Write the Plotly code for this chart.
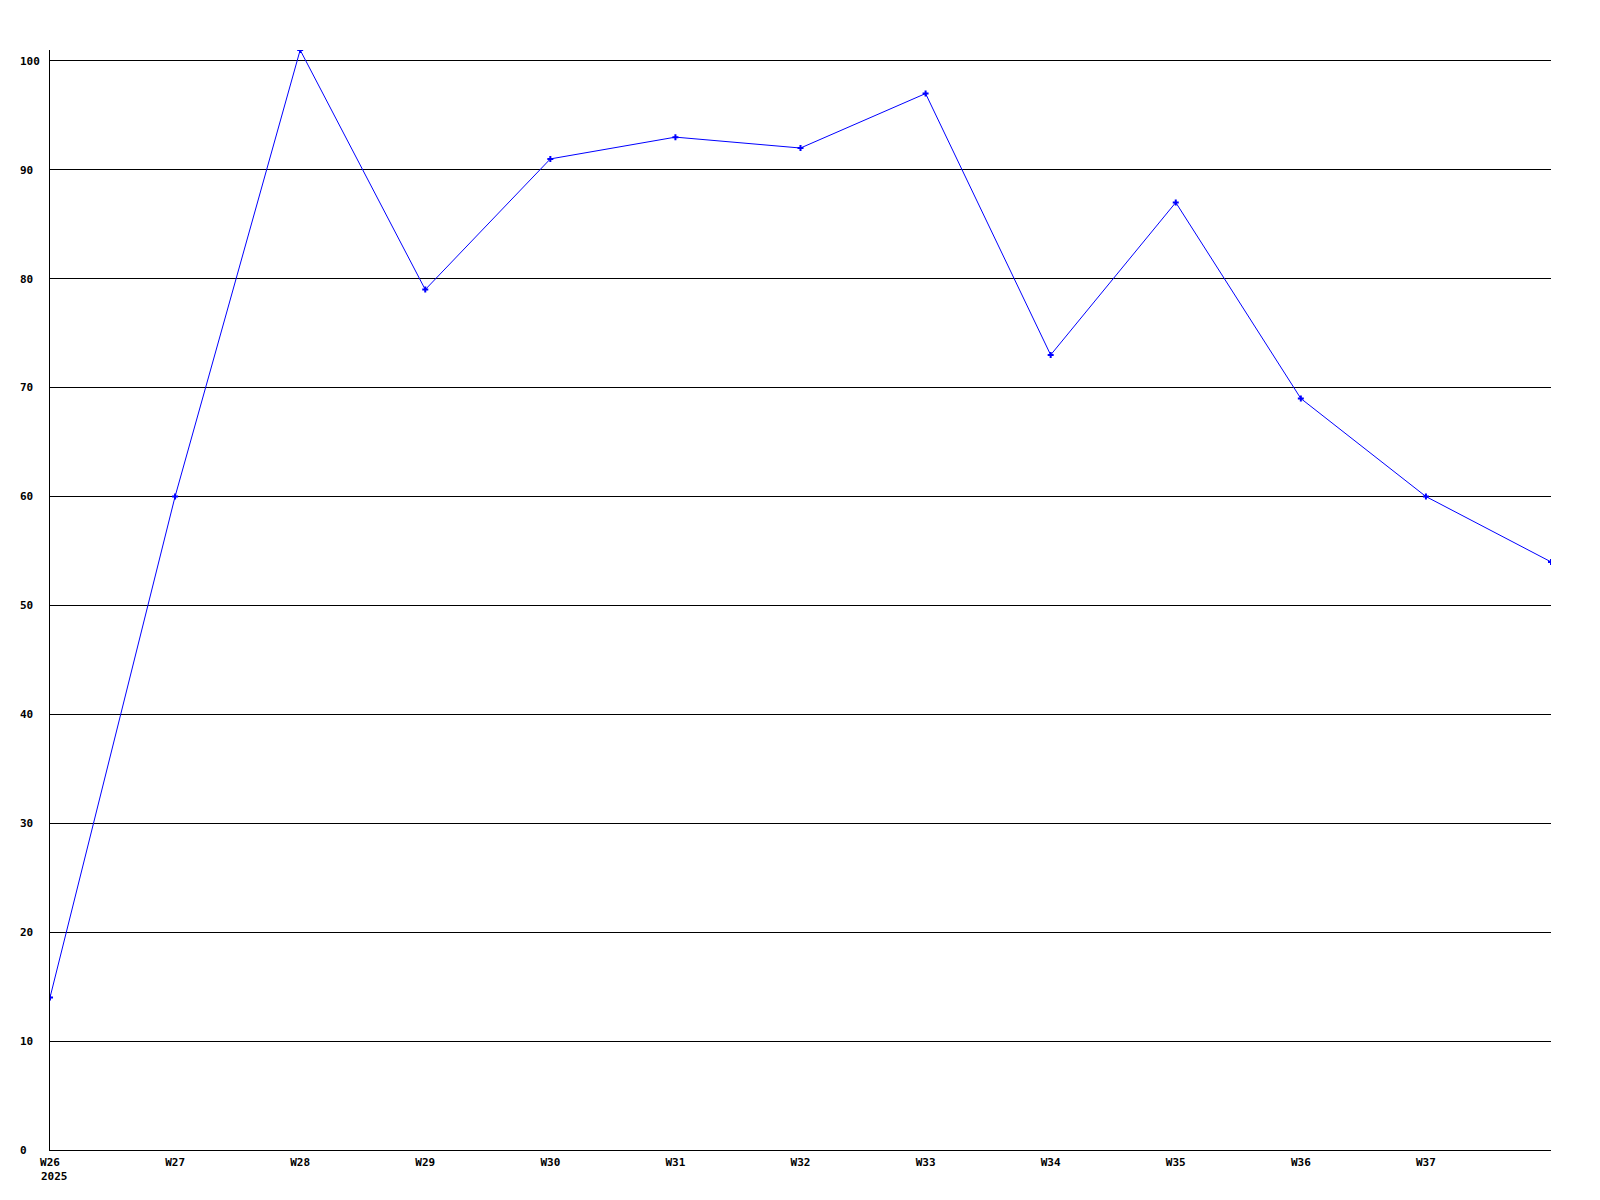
import plotly.graph_objects as go

weeks = ["W26", "W27", "W28", "W29", "W30", "W31", "W32", "W33", "W34", "W35", "W36", "W37", "W38"]
values = [14, 60, 101, 79, 91, 93, 92, 97, 73, 87, 69, 60, 54]
tick_weeks = ["W26", "W27", "W28", "W29", "W30", "W31", "W32", "W33", "W34", "W35", "W36", "W37"]
y_ticks = [0, 10, 20, 30, 40, 50, 60, 70, 80, 90, 100]
year_label = "2025"

x_idx = list(range(len(weeks)))
font = dict(family="DejaVu Sans Mono", size=11, color="black")
tfont = dict(family="DejaVu Sans Mono", size=11, color="black", weight="bold")

fig = go.Figure()
fig.add_trace(go.Scatter(
    x=x_idx, y=values, mode="lines+markers",
    line=dict(color="#0000ff", width=1),
    marker=dict(symbol="cross", size=5, color="#0000ff", line=dict(width=0)),
    showlegend=False, hoverinfo="skip",
))

# left-aligned y labels via monospace padding
y_text = [str(v) + "\u00a0" * (3 - len(str(v))) for v in y_ticks]

fig.update_layout(
    width=1600, height=1200,
    margin=dict(l=42, r=57, t=42, b=58),
    paper_bgcolor="white", plot_bgcolor="white",
    font=font,
    xaxis=dict(
        range=[0, len(weeks) - 1],
        tickmode="array", tickvals=list(range(len(tick_weeks))), ticktext=tick_weeks,
        showgrid=False, zeroline=False, showline=True, linecolor="black", linewidth=1,
        ticks="", tickfont=tfont, ticklabelstandoff=2, automargin=False,
    ),
    yaxis=dict(
        range=[0, 101],
        tickmode="array", tickvals=y_ticks, ticktext=y_text,
        showgrid=True, gridcolor="black", gridwidth=1,
        zeroline=False, showline=True, linecolor="black", linewidth=1,
        ticks="", tickfont=tfont, ticklabelstandoff=7, automargin=False,
    ),
)

fig.add_annotation(
    x=0, y=0, xref="x", yref="paper", text=year_label, showarrow=False,
    xanchor="left", yanchor="top", xshift=-11, yshift=-18,
    font=tfont,
)

fig.write_html("out.html")
